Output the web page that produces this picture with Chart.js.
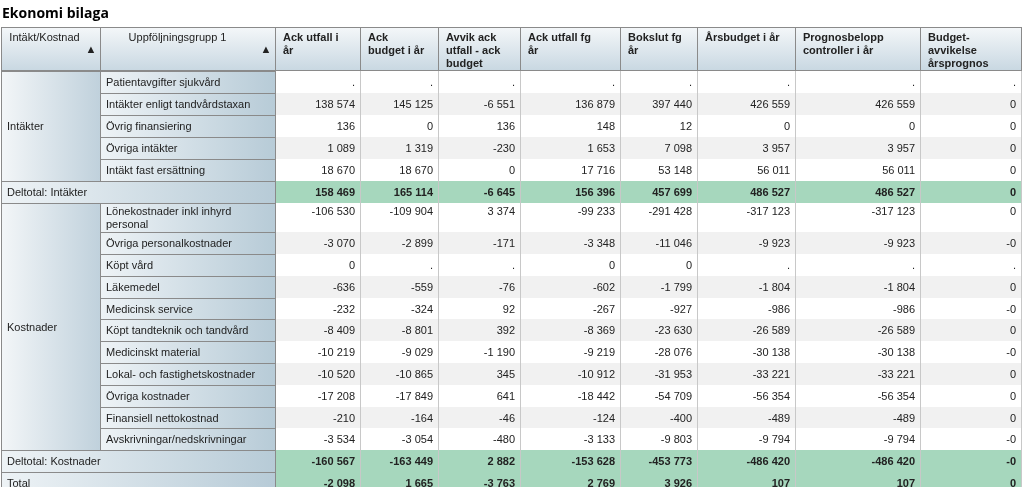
<!DOCTYPE html>
<html>
<head>
<meta charset="utf-8">
<script src="https://cdn.jsdelivr.net/npm/chart.js@4/dist/chart.umd.min.js"></script>
<style>
  body { margin: 0; background: #fff; }
  canvas { display: block; }
</style>
</head>
<body>
<canvas id="tableChart" width="1024" height="487"></canvas>
<script>
const title = 'Ekonomi bilaga';
const headers = ['Intäkt/Kostnad', 'Uppföljningsgrupp 1', 'Ack utfall i|år', 'Ack|budget i år',
  'Avvik ack|utfall - ack|budget', 'Ack utfall fg|år', 'Bokslut fg|år', 'Årsbudget i år',
  'Prognosbelopp|controller i år', 'Budget-|avvikelse|årsprognos'];
const groups = ['Intäkter', 'Kostnader'];
const rowLabels = ['Patientavgifter sjukvård', 'Intäkter enligt tandvårdstaxan', 'Övrig finansiering',
  'Övriga intäkter', 'Intäkt fast ersättning', 'Deltotal: Intäkter',
  'Lönekostnader inkl inhyrd|personal', 'Övriga personalkostnader', 'Köpt vård', 'Läkemedel',
  'Medicinsk service', 'Köpt tandteknik och tandvård', 'Medicinskt material',
  'Lokal- och fastighetskostnader', 'Övriga kostnader', 'Finansiell nettokostnad',
  'Avskrivningar/nedskrivningar', 'Deltotal: Kostnader', 'Total'];
const ackUtfall = ['.', '138 574', '136', '1 089', '18 670', '158 469', '-106 530', '-3 070', '0', '-636', '-232', '-8 409', '-10 219', '-10 520', '-17 208', '-210', '-3 534', '-160 567', '-2 098'];
const ackBudget = ['.', '145 125', '0', '1 319', '18 670', '165 114', '-109 904', '-2 899', '.', '-559', '-324', '-8 801', '-9 029', '-10 865', '-17 849', '-164', '-3 054', '-163 449', '1 665'];
const avvik = ['.', '-6 551', '136', '-230', '0', '-6 645', '3 374', '-171', '.', '-76', '92', '392', '-1 190', '345', '641', '-46', '-480', '2 882', '-3 763'];
const ackUtfallFg = ['.', '136 879', '148', '1 653', '17 716', '156 396', '-99 233', '-3 348', '0', '-602', '-267', '-8 369', '-9 219', '-10 912', '-18 442', '-124', '-3 133', '-153 628', '2 769'];
const bokslutFg = ['.', '397 440', '12', '7 098', '53 148', '457 699', '-291 428', '-11 046', '0', '-1 799', '-927', '-23 630', '-28 076', '-31 953', '-54 709', '-400', '-9 803', '-453 773', '3 926'];
const arsbudget = ['.', '426 559', '0', '3 957', '56 011', '486 527', '-317 123', '-9 923', '.', '-1 804', '-986', '-26 589', '-30 138', '-33 221', '-56 354', '-489', '-9 794', '-486 420', '107'];
const prognos = ['.', '426 559', '0', '3 957', '56 011', '486 527', '-317 123', '-9 923', '.', '-1 804', '-986', '-26 589', '-30 138', '-33 221', '-56 354', '-489', '-9 794', '-486 420', '107'];
const budgetAvv = ['.', '0', '0', '0', '0', '0', '0', '-0', '.', '0', '-0', '0', '-0', '0', '0', '0', '-0', '-0', '0'];

const valueCols = [ackUtfall, ackBudget, avvik, ackUtfallFg, bokslutFg, arsbudget, prognos, budgetAvv];
const totalRows = [5, 17, 18];
const groupRows = [[0, 4], [6, 16]];

// layout (in scale units = pixels)
const colEdges = [1, 100, 275, 360, 438, 520, 620, 697, 795, 920, 1021];
const headTop = 27, headBottom = 70;
const rowEdges = [71, 93, 115, 137, 159, 181, 203, 232, 254, 276, 298, 319, 341, 363, 385, 407, 428, 450, 472, 494];

const tablePlugin = {
  id: 'table',
  afterDraw(chart) {
    const ctx = chart.ctx, sx = chart.scales.x, sy = chart.scales.y;
    const X = v => sx.getPixelForValue(v), Y = v => sy.getPixelForValue(v);
    const font = '11px "Liberation Sans", Arial, sans-serif';
    const bold = 'bold 11px "Liberation Sans", Arial, sans-serif';
    ctx.save();
    ctx.textBaseline = 'middle';

    ctx.fillStyle = '#000';
    ctx.font = 'bold 14px "Open Sans", sans-serif';
    ctx.fillText(title, X(2), Y(14));

    // header
    let g = ctx.createLinearGradient(0, Y(headTop), 0, Y(headBottom));
    g.addColorStop(0, '#f4f7f9'); g.addColorStop(1, '#c9d8e2');
    ctx.fillStyle = g;
    ctx.fillRect(X(colEdges[0]), Y(headTop), X(colEdges[10]) - X(colEdges[0]), Y(headBottom) - Y(headTop));
    ctx.strokeStyle = '#8a8a8a'; ctx.lineWidth = 1;
    ctx.strokeRect(X(colEdges[0]) + 0.5, Y(headTop) + 0.5, X(colEdges[10]) - X(colEdges[0]), Y(headBottom) - Y(headTop));
    headers.forEach((h, i) => {
      const x0 = X(colEdges[i]), x1 = X(colEdges[i + 1]);
      if (i > 0) { ctx.beginPath(); ctx.moveTo(x0 + 0.5, Y(headTop)); ctx.lineTo(x0 + 0.5, Y(headBottom)); ctx.stroke(); }
      ctx.fillStyle = '#222';
      if (i < 2) {
        ctx.font = font; ctx.textAlign = 'center';
        ctx.fillText(h, (x0 + x1) / 2 - (i === 1 ? 10 : 6), Y(headTop + 11));
        ctx.fillText('▲', x1 - 9, Y(headTop + 23));
      } else {
        ctx.font = bold; ctx.textAlign = 'left';
        h.split('|').forEach((t, k) => ctx.fillText(t, x0 + 8, Y(headTop + 11 + k * 13)));
      }
    });

    // rows
    rowLabels.forEach((lab, r) => {
      const y0 = Y(rowEdges[r]), y1 = Math.min(Y(rowEdges[r + 1]), Y(487));
      const ym = (Y(rowEdges[r]) + Y(rowEdges[r + 1])) / 2 + 1;
      const isTot = totalRows.includes(r);
      ctx.fillStyle = isTot ? '#a6d7bd' : (r % 2 === 1 ? '#f1f1f1' : '#ffffff');
      ctx.fillRect(X(colEdges[2]), y0, X(colEdges[10]) - X(colEdges[2]), y1 - y0);
      const lx0 = X(isTot ? colEdges[0] : colEdges[1]);
      g = ctx.createLinearGradient(lx0, 0, X(colEdges[2]), 0);
      g.addColorStop(0, '#eef3f6'); g.addColorStop(1, '#b7cbd7');
      ctx.fillStyle = g;
      ctx.fillRect(lx0, y0, X(colEdges[2]) - lx0, y1 - y0);
      ctx.strokeStyle = '#8a8a8a';
      ctx.strokeRect(lx0 + 0.5, y0 + 0.5, X(colEdges[2]) - lx0, y1 - y0);
      ctx.fillStyle = '#222'; ctx.font = font; ctx.textAlign = 'left';
      const parts = lab.split('|');
      parts.forEach((t, k) => ctx.fillText(t, lx0 + 6, ym + (k - (parts.length - 1) / 2) * 13));
      ctx.textAlign = 'right'; ctx.font = isTot ? bold : font;
      valueCols.forEach((col, c) => {
        const yy = parts.length > 1 ? y0 + 9 : ym;
        ctx.fillText(col[r], X(colEdges[c + 3]) - 5, yy);
      });
      ctx.strokeStyle = '#c8c8c8';
      for (let c = 3; c <= 10; c++) {
        ctx.beginPath(); ctx.moveTo(X(colEdges[c]) + 0.5, y0); ctx.lineTo(X(colEdges[c]) + 0.5, y1); ctx.stroke();
      }
    });

    // group cells
    groupRows.forEach(([a, b], i) => {
      const y0 = Y(rowEdges[a]), y1 = Y(rowEdges[b + 1]);
      g = ctx.createLinearGradient(X(colEdges[0]), 0, X(colEdges[1]), 0);
      g.addColorStop(0, '#f3f6f8'); g.addColorStop(1, '#c0d1dc');
      ctx.fillStyle = g;
      ctx.fillRect(X(colEdges[0]), y0, X(colEdges[1]) - X(colEdges[0]), y1 - y0);
      ctx.strokeStyle = '#8a8a8a';
      ctx.strokeRect(X(colEdges[0]) + 0.5, y0 + 0.5, X(colEdges[1]) - X(colEdges[0]), y1 - y0);
      ctx.fillStyle = '#222'; ctx.font = font; ctx.textAlign = 'left';
      ctx.fillText(groups[i], X(colEdges[0]) + 6, (y0 + y1) / 2 + 1);
    });
    ctx.restore();
  }
};

new Chart(document.getElementById('tableChart').getContext('2d'), {
  type: 'scatter',
  data: { datasets: [{ data: [] }] },
  options: {
    responsive: false,
    animation: false,
    layout: { padding: 0 },
    plugins: { legend: { display: false }, tooltip: { enabled: false } },
    scales: {
      x: { type: 'linear', min: 0, max: 1024, display: false },
      y: { type: 'linear', min: 0, max: 487, reverse: true, display: false }
    }
  },
  plugins: [tablePlugin]
});
</script>
</body>
</html>
